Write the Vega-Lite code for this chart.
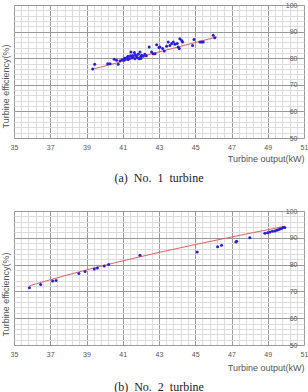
{
  "$schema": "https://vega.github.io/schema/vega-lite/v6.json",
  "padding": {"left": 1, "top": 1, "right": 0, "bottom": 0},
  "background": "white",
  "config": {"view": {"stroke": null}, "font": "Liberation Sans", "concat": {"spacing": 23}},
  "datasets": {
    "t1pts": [
      {"output": 39.34, "eff": 75.9}, {"output": 39.45, "eff": 77.7}, {"output": 40.17, "eff": 77.9}, {"output": 40.3, "eff": 77.9},
      {"output": 40.53, "eff": 79.6}, {"output": 40.66, "eff": 79.2}, {"output": 40.75, "eff": 77.7}, {"output": 40.85, "eff": 79.0},
      {"output": 40.97, "eff": 79.4}, {"output": 41.07, "eff": 79.2}, {"output": 41.14, "eff": 79.7}, {"output": 41.21, "eff": 80.2},
      {"output": 41.29, "eff": 80.7}, {"output": 41.36, "eff": 79.9}, {"output": 41.43, "eff": 80.9}, {"output": 41.45, "eff": 82.3},
      {"output": 41.5, "eff": 80.2}, {"output": 41.58, "eff": 80.5}, {"output": 41.64, "eff": 82.1}, {"output": 41.67, "eff": 79.8},
      {"output": 41.76, "eff": 80.7}, {"output": 41.8, "eff": 80.2}, {"output": 41.86, "eff": 81.5}, {"output": 41.91, "eff": 79.8},
      {"output": 41.95, "eff": 82.3}, {"output": 41.99, "eff": 80.5}, {"output": 42.04, "eff": 81.1}, {"output": 42.13, "eff": 80.7},
      {"output": 42.22, "eff": 81.5}, {"output": 42.46, "eff": 84.2}, {"output": 42.59, "eff": 82.3}, {"output": 42.68, "eff": 81.7},
      {"output": 42.78, "eff": 81.7}, {"output": 42.87, "eff": 85.1}, {"output": 43.0, "eff": 84.0}, {"output": 43.05, "eff": 84.2},
      {"output": 43.2, "eff": 83.6}, {"output": 43.29, "eff": 82.7}, {"output": 43.42, "eff": 84.5}, {"output": 43.51, "eff": 86.1},
      {"output": 43.6, "eff": 84.8}, {"output": 43.7, "eff": 85.5}, {"output": 43.79, "eff": 86.1}, {"output": 43.88, "eff": 85.2},
      {"output": 44.0, "eff": 85.5}, {"output": 44.06, "eff": 84.2}, {"output": 44.12, "eff": 83.6}, {"output": 44.15, "eff": 87.3},
      {"output": 44.25, "eff": 86.7}, {"output": 44.3, "eff": 86.1}, {"output": 44.85, "eff": 84.8}, {"output": 44.93, "eff": 87.0},
      {"output": 45.26, "eff": 86.1}, {"output": 45.35, "eff": 86.1}, {"output": 45.44, "eff": 86.1}, {"output": 45.99, "eff": 88.6},
      {"output": 46.08, "eff": 87.7}, {"output": 41.1, "eff": 80.0}, {"output": 41.3, "eff": 79.5}, {"output": 41.55, "eff": 81.0},
      {"output": 41.7, "eff": 81.3}, {"output": 42.0, "eff": 79.9}, {"output": 42.3, "eff": 80.9}
    ],
    "t1fit": [{"output": 39.3, "eff": 75.8}, {"output": 46.2, "eff": 88.0}],
    "t2pts": [
      {"output": 35.85, "eff": 71.4}, {"output": 36.47, "eff": 72.6}, {"output": 37.13, "eff": 73.9}, {"output": 37.32, "eff": 74.1},
      {"output": 38.58, "eff": 76.7}, {"output": 38.92, "eff": 77.4}, {"output": 39.43, "eff": 78.4}, {"output": 39.6, "eff": 78.7},
      {"output": 39.98, "eff": 79.5}, {"output": 40.22, "eff": 80.0}, {"output": 41.95, "eff": 83.5}, {"output": 45.11, "eff": 84.7},
      {"output": 46.23, "eff": 86.7}, {"output": 46.45, "eff": 87.2}, {"output": 47.24, "eff": 88.4}, {"output": 47.28, "eff": 88.7},
      {"output": 48.01, "eff": 90.0}, {"output": 48.84, "eff": 91.7}, {"output": 48.99, "eff": 91.9}, {"output": 49.12, "eff": 92.2},
      {"output": 49.26, "eff": 92.4}, {"output": 49.39, "eff": 92.5}, {"output": 49.49, "eff": 92.8}, {"output": 49.58, "eff": 93.0},
      {"output": 49.67, "eff": 93.3}, {"output": 49.76, "eff": 93.5}, {"output": 49.85, "eff": 93.8}, {"output": 49.94, "eff": 93.8}
    ],
    "t2fit": [{"output": 35.85, "eff": 72.1}, {"output": 36.2, "eff": 72.8}, {"output": 49.95, "eff": 94.3}]
  },
  "vconcat": [
    {
      "width": 290, "height": 133,
      "title": {"text": "(a)\u00a0 No.\u00a0 1\u00a0 turbine", "orient": "bottom", "font": "Liberation Serif", "fontSize": 12, "fontWeight": "normal", "color": "#222", "offset": 10, "anchor": "middle"},
      "layer": [
        {
          "data": {"name": "t1fit"},
          "mark": {"type": "line", "color": "#e06060", "strokeWidth": 1},
          "encoding": {
            "x": {"field": "output", "type": "quantitative", "scale": {"domain": [35, 51], "nice": false, "zero": false},
              "axis": {"orient": "top", "values": [35,35.4,35.8,36.2,36.6,37,37.4,37.8,38.2,38.6,39,39.4,39.8,40.2,40.6,41,41.4,41.8,42.2,42.6,43,43.4,43.8,44.2,44.6,45,45.4,45.8,46.2,46.6,47,47.4,47.8,48.2,48.6,49,49.4,49.8,50.2,50.6,51], "labels": false, "ticks": false, "domain": false, "title": null, "grid": true, "gridColor": "#dcdcdc"}},
            "y": {"field": "eff", "type": "quantitative", "scale": {"domain": [50, 100], "nice": false, "zero": false},
              "axis": {"orient": "left", "values": [50,52,54,56,58,60,62,64,66,68,70,72,74,76,78,80,82,84,86,88,90,92,94,96,98,100], "labels": false, "ticks": false, "domain": false, "grid": true, "gridColor": "#dcdcdc", "title": "Turbine efficiency(%)", "titleFontSize": 9, "titleFontWeight": "normal", "titleColor": "#555", "titlePadding": 4, "titleY": 81}}
          }
        },
        {
          "data": {"name": "t1pts"},
          "mark": {"type": "point", "filled": true, "color": "#2a1fd8", "size": 9, "opacity": 1},
          "encoding": {
            "x": {"field": "output", "type": "quantitative", "scale": {"domain": [35, 51], "nice": false, "zero": false},
              "axis": {"orient": "bottom", "values": [35,37,39,41,43,45,47,49,51], "grid": true, "gridColor": "#999", "ticks": false, "domain": false, "labelFontSize": 7, "labelColor": "#555", "labelPadding": 5, "labelFlush": false, "labelOverlap": false, "title": "Turbine output(kW)", "titleAnchor": "end", "titleAlign": "right", "titleFontSize": 9, "titleFontWeight": "normal", "titleColor": "#555", "titlePadding": 4}},
            "y": {"field": "eff", "type": "quantitative", "scale": {"domain": [50, 100], "nice": false, "zero": false},
              "axis": {"orient": "right", "values": [50,60,70,80,90,100], "grid": true, "gridColor": "#999", "ticks": false, "domain": false, "labelFontSize": 7, "labelColor": "#555", "labelAlign": "right", "labelPadding": -7, "labelFlush": false, "labelOverlap": false, "labelBaseline": "middle", "title": null}}
          }
        }
      ],
      "resolve": {"axis": {"x": "independent", "y": "independent"}}
    },
    {
      "width": 290, "height": 134,
      "title": {"text": "(b)\u00a0 No.\u00a0 2\u00a0 turbine", "orient": "bottom", "font": "Liberation Serif", "fontSize": 12, "fontWeight": "normal", "color": "#222", "offset": 10, "anchor": "middle"},
      "layer": [
        {
          "data": {"name": "t2fit"},
          "mark": {"type": "line", "color": "#e06060", "strokeWidth": 1, "interpolate": "monotone"},
          "encoding": {
            "x": {"field": "output", "type": "quantitative", "scale": {"domain": [35, 51], "nice": false, "zero": false},
              "axis": {"orient": "top", "values": [35,35.4,35.8,36.2,36.6,37,37.4,37.8,38.2,38.6,39,39.4,39.8,40.2,40.6,41,41.4,41.8,42.2,42.6,43,43.4,43.8,44.2,44.6,45,45.4,45.8,46.2,46.6,47,47.4,47.8,48.2,48.6,49,49.4,49.8,50.2,50.6,51], "labels": false, "ticks": false, "domain": false, "title": null, "grid": true, "gridColor": "#dcdcdc"}},
            "y": {"field": "eff", "type": "quantitative", "scale": {"domain": [50, 100], "nice": false, "zero": false},
              "axis": {"orient": "left", "values": [50,52,54,56,58,60,62,64,66,68,70,72,74,76,78,80,82,84,86,88,90,92,94,96,98,100], "labels": false, "ticks": false, "domain": false, "grid": true, "gridColor": "#dcdcdc", "title": "Turbine efficiency(%)", "titleFontSize": 9, "titleFontWeight": "normal", "titleColor": "#555", "titlePadding": 4, "titleY": 83}}
          }
        },
        {
          "data": {"name": "t2pts"},
          "mark": {"type": "point", "filled": true, "color": "#2a1fd8", "size": 9, "opacity": 1},
          "encoding": {
            "x": {"field": "output", "type": "quantitative", "scale": {"domain": [35, 51], "nice": false, "zero": false},
              "axis": {"orient": "bottom", "values": [35,37,39,41,43,45,47,49,51], "grid": true, "gridColor": "#999", "ticks": false, "domain": false, "labelFontSize": 7, "labelColor": "#555", "labelPadding": 5, "labelFlush": false, "labelOverlap": false, "title": "Turbine output(kW)", "titleAnchor": "end", "titleAlign": "right", "titleFontSize": 9, "titleFontWeight": "normal", "titleColor": "#555", "titlePadding": 6}},
            "y": {"field": "eff", "type": "quantitative", "scale": {"domain": [50, 100], "nice": false, "zero": false},
              "axis": {"orient": "right", "values": [50,60,70,80,90,100], "grid": true, "gridColor": "#999", "ticks": false, "domain": false, "labelFontSize": 7, "labelColor": "#555", "labelAlign": "right", "labelPadding": -7, "labelFlush": false, "labelOverlap": false, "labelBaseline": "middle", "title": null}}
          }
        }
      ],
      "resolve": {"axis": {"x": "independent", "y": "independent"}}
    }
  ]
}
